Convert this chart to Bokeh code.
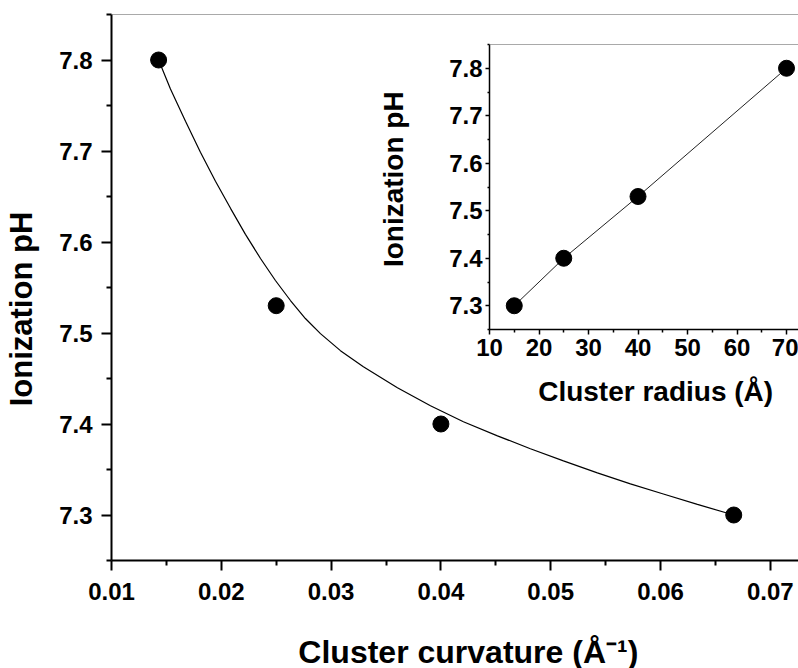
from bokeh.plotting import figure
from bokeh.models import (FixedTicker, Span, Range1d, InlineStyleSheet,
                          GlobalInlineStyleSheet)
from bokeh.layouts import column
from bokeh.embed import file_html
from bokeh.resources import INLINE

FONT = "Liberation Sans"
NB = "\u00a0"

# ---- data ----
curvature = [0.01429, 0.025, 0.040, 0.06667]
ph_main = [7.80, 7.53, 7.40, 7.30]

radius = [15, 25, 40, 70]
ph_inset = [7.30, 7.40, 7.53, 7.80]

fit_x = [0.01429, 0.01537, 0.01674, 0.01810, 0.01947, 0.02084, 0.02220, 0.02357,
         0.02493, 0.02630, 0.02766, 0.02903, 0.03085, 0.03294, 0.03604, 0.03905,
         0.04205, 0.04515, 0.04815, 0.05116, 0.05425, 0.05726, 0.06026, 0.06336,
         0.06667]
fit_y = [7.8000, 7.7681, 7.7328, 7.6987, 7.6667, 7.6370, 7.6084, 7.5819,
         7.5577, 7.5357, 7.5159, 7.4993, 7.4806, 7.4630, 7.4399, 7.4200,
         7.4024, 7.3870, 7.3728, 7.3595, 7.3463, 7.3342, 7.3231, 7.3116,
         7.3000]

main_xticks = [0.01, 0.02, 0.03, 0.04, 0.05, 0.06, 0.07]
main_xminor = [0.015, 0.025, 0.035, 0.045, 0.055, 0.065]
ph_ticks = [7.3, 7.4, 7.5, 7.6, 7.7, 7.8]
ph_minor = [7.25, 7.35, 7.45, 7.55, 7.65, 7.75, 7.85]
inset_xticks = [10, 20, 30, 40, 50, 60, 70]
inset_xminor = [15, 25, 35, 45, 55, 65]


def style_axis(ax, size, lw, tick_out, minor_out, standoff,
               title, title_size, title_standoff):
    ax.axis_line_width = lw
    ax.axis_line_color = "black"
    ax.major_tick_line_width = lw
    ax.minor_tick_line_width = lw
    ax.major_tick_line_color = "black"
    ax.minor_tick_line_color = "black"
    ax.major_tick_in = 0
    ax.major_tick_out = tick_out
    ax.minor_tick_in = 0
    ax.minor_tick_out = minor_out
    ax.major_label_text_font = FONT
    ax.major_label_text_font_style = "bold"
    ax.major_label_text_font_size = size
    ax.major_label_text_color = "black"
    ax.major_label_standoff = standoff
    ax.axis_label = title
    ax.axis_label_text_font = FONT
    ax.axis_label_text_font_style = "bold"
    ax.axis_label_text_font_size = title_size
    ax.axis_label_text_color = "black"
    ax.axis_label_standoff = title_standoff


# ---- main plot ----
p = figure(frame_width=687, frame_height=546,
           min_border_left=111, min_border_right=0,
           min_border_top=14, min_border_bottom=108,
           x_range=Range1d(0.01, 0.072568), y_range=Range1d(7.25, 7.85),
           output_backend="svg", toolbar_location=None,
           outline_line_color=None, frame_align=False)
p.grid.visible = False
p.xaxis.ticker = FixedTicker(ticks=main_xticks, minor_ticks=main_xminor)
p.yaxis.ticker = FixedTicker(ticks=ph_ticks, minor_ticks=ph_minor)
style_axis(p.xaxis[0], "24px", 2, 10, 5, 12,
           NB * 3 + "Cluster curvature (Å⁻¹)", "32px", 31)
style_axis(p.yaxis[0], "24px", 2, 10, 5, 9,
           "Ionization pH" + NB * 5, "31px", 17)

p.add_layout(Span(location=7.85, dimension="width", line_color="#555555", line_width=1))

p.line(fit_x, fit_y, line_color="black", line_width=1.2)
p.scatter(curvature, ph_main, size=16, color="black")

# ---- inset ----
inset_css = InlineStyleSheet(css=":host { position: absolute !important; left: 370px !important; top: 40px !important; }")
inset = figure(frame_width=309, frame_height=285,
               min_border_left=119, min_border_right=0,
               min_border_top=4, min_border_bottom=85,
               x_range=Range1d(10, 72.42), y_range=Range1d(7.25, 7.85),
               output_backend="svg", toolbar_location=None,
               outline_line_color=None, background_fill_color=None,
               border_fill_color=None, frame_align=False,
               stylesheets=[inset_css])
inset.grid.visible = False
inset.xaxis.ticker = FixedTicker(ticks=inset_xticks, minor_ticks=inset_xminor)
inset.yaxis.ticker = FixedTicker(ticks=ph_ticks, minor_ticks=ph_minor)
style_axis(inset.xaxis[0], "24px", 1.5, 5, 3, 4,
           NB * 3 + "Cluster radius (Å)", "28px", 17)
style_axis(inset.yaxis[0], "24px", 1.5, 4, 2, 3,
           NB * 2 + "Ionization pH", "28px", 37)
inset.add_layout(Span(location=7.85, dimension="width", line_color="#555555", line_width=1))

inset.line(radius, ph_inset, line_color="#222222", line_width=1)
inset.scatter(radius, ph_inset, size=16, color="black")

page_css = GlobalInlineStyleSheet(css="html { overflow: hidden; }")
host_css = InlineStyleSheet(css=":host { position: relative !important; }")
layout = column(p, inset, stylesheets=[host_css, page_css])

open("out.html", "w").write(file_html(layout, INLINE))
